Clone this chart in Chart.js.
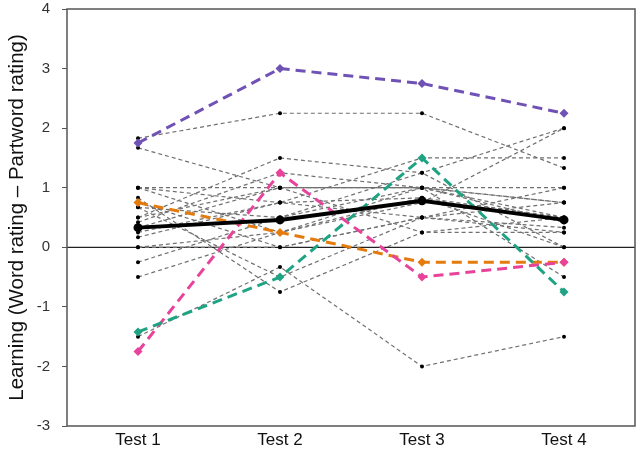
<!DOCTYPE html>
<html>
<head>
<meta charset="utf-8">
<script src="https://cdn.jsdelivr.net/npm/chart.js@4.4.0/dist/chart.umd.min.js"></script>
<style>
    html, body { margin: 0; padding: 0; background: #fff; }
    #wrap { width: 643px; height: 456px; }
</style>
</head>
<body>
<div id="wrap"><canvas id="learning-chart" width="643" height="456"></canvas></div>
<script>
// Categories and y ticks
const tests = ['Test 1', 'Test 2', 'Test 3', 'Test 4'];
const yTicks = [-3, -2, -1, 0, 1, 2, 3, 4];

// Group mean
const meanScores = [0.33, 0.46, 0.78, 0.46];

// Highlighted participants
const purpleScores = [1.75, 3.0, 2.75, 2.25];
const pinkScores = [-1.75, 1.25, -0.5, -0.25];
const tealScores = [-1.42, -0.5, 1.5, -0.75];
const orangeScores = [0.75, 0.25, -0.25, -0.25];

// Other participants (grey dashed)
const p01 = [1.83, 2.25, 2.25, 1.33];
const p02 = [1.67, 1.0, 1.0, 0.75];
const p03 = [1.0, 1.0, 1.0, 1.0];
const p04 = [1.0, 0.75, 0.5, 0.25];
const p05 = [0.83, -0.75, 0.25, 0.5];
const p06 = [0.67, -0.5, 0.5, 0.33];
const p07 = [0.5, 1.5, 1.25, 2.0];
const p08 = [0.42, 1.25, 1.0, 0.5];
const p09 = [0.17, 0.75, 1.5, 1.5];
const p10 = [0.0, 0.25, 0.75, 2.0];
const p11 = [0.0, 0.0, 0.5, 0.75];
const p12 = [-0.25, 0.5, 1.0, 0.42];
const p13 = [-0.5, 0.25, 0.83, 0.0];
const p14 = [-1.5, -0.33, -2.0, -1.5];
const p15 = [0.33, 1.0, 0.25, 0.25];
const p16 = [1.0, 0.25, 1.0, -0.5];
const p17 = [0.75, 0.0, 0.5, 1.0];
const p18 = [0.5, 1.0, 1.0, 0.75];
const p19 = [0.25, 0.75, 0.83, 0.5];
const p20 = [0.67, 0.5, 1.25, 0.0];
const greyScores = [p01, p02, p03, p04, p05, p06, p07, p08, p09, p10,
    p11, p12, p13, p14, p15, p16, p17, p18, p19, p20];

const fontFamily = '"Liberation Sans", Arial, sans-serif';

function highlighted(data, color) {
    return {
        data: data,
        borderColor: color,
        backgroundColor: color,
        borderWidth: 3,
        borderDash: [10, 6],
        pointStyle: 'rectRot',
        pointRadius: 4.5,
        pointBorderWidth: 0,
        order: 2
    };
}

const datasets = [];
datasets.push({
    data: meanScores,
    borderColor: '#000',
    backgroundColor: '#000',
    borderWidth: 4,
    pointRadius: 4.5,
    pointBorderWidth: 0,
    order: 1
});
datasets.push(highlighted(purpleScores, '#7052b6'));
datasets.push(highlighted(tealScores, '#1fa383'));
datasets.push(highlighted(pinkScores, '#e8439a'));
datasets.push(highlighted(orangeScores, '#e47b0f'));
greyScores.forEach(function (scores) {
    datasets.push({
        data: scores,
        borderColor: '#707070',
        backgroundColor: '#000',
        borderWidth: 1.2,
        borderDash: [4, 3],
        pointRadius: 2,
        pointBorderWidth: 0,
        order: 3
    });
});

// Zero line and box around the plot
const framePlugin = {
    id: 'frame',
    beforeDatasetsDraw: function (chart) {
        const ctx = chart.ctx;
        const area = chart.chartArea;
        const y0 = chart.scales.y.getPixelForValue(0);
        ctx.save();
        ctx.strokeStyle = '#222';
        ctx.lineWidth = 1.2;
        ctx.beginPath();
        ctx.moveTo(area.left, y0);
        ctx.lineTo(area.right, y0);
        ctx.stroke();
        ctx.restore();
    },
    afterDraw: function (chart) {
        const ctx = chart.ctx;
        const area = chart.chartArea;
        ctx.save();
        ctx.strokeStyle = '#555';
        ctx.lineWidth = 1.5;
        ctx.strokeRect(area.left, area.top, area.right - area.left, area.bottom - area.top);
        ctx.restore();
    }
};

new Chart(document.getElementById('learning-chart'), {
    type: 'line',
    data: { labels: tests, datasets: datasets },
    plugins: [framePlugin],
    options: {
        responsive: false,
        animation: false,
        maintainAspectRatio: false,
        layout: { padding: { top: 1, right: 8, left: 0, bottom: 0 } },
        plugins: {
            legend: { display: false },
            tooltip: { enabled: false }
        },
        elements: { line: { tension: 0 } },
        scales: {
            x: {
                offset: true,
                grid: { display: false, drawTicks: false },
                border: { display: false },
                ticks: {
                    color: '#111',
                    font: { family: fontFamily, size: 17 },
                    padding: 4
                },
                afterFit: function (scale) { scale.height = 30; }
            },
            y: {
                min: -3,
                max: 4,
                afterBuildTicks: function (scale) {
                    scale.ticks = yTicks.map(v => ({ value: v }));
                },
                grid: {
                    drawOnChartArea: false,
                    drawTicks: true,
                    tickLength: 5,
                    color: '#555'
                },
                border: { display: false },
                ticks: {
                    color: '#333',
                    font: { family: fontFamily, size: 15 },
                    padding: 12
                },
                title: {
                    display: true,
                    text: 'Learning (Word rating – Partword rating)',
                    color: '#111',
                    font: { family: fontFamily, size: 20.5 },
                    padding: { top: 5, bottom: 4 }
                },
                afterFit: function (scale) {
                    scale.width = 67;
                    scale.paddingTop = 9;
                }
            }
        }
    }
});
</script>
</body>
</html>
